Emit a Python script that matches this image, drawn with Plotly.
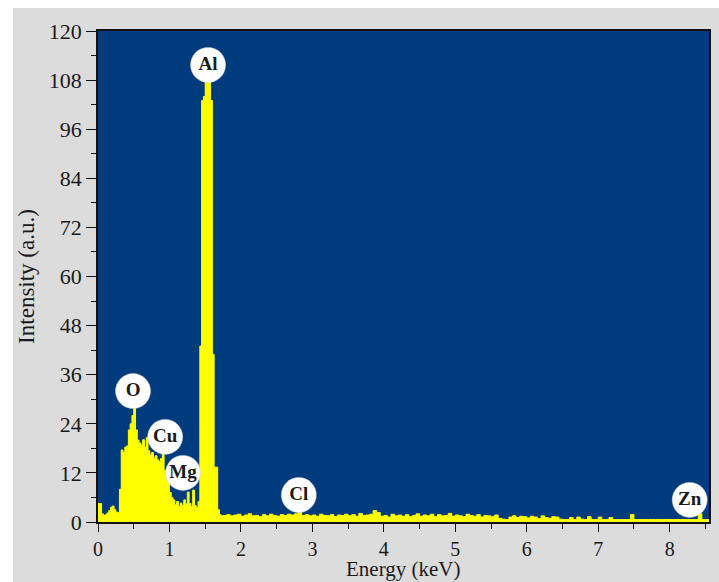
import numpy as np
import plotly.graph_objects as go

# ---- data ----
low_step = 0.025  # keV bin width, 0 - 1.75 keV
low_counts = [
    4.5, 4.5, 2.0, 1.6, 1.8, 2.2, 2.8, 3.6, 3.9, 3.0,
    2.4, 2.3, 8.0, 17.6, 17.0, 18.3, 18.6, 22.5, 24.0, 26.0,
    28.0, 22.5, 20.0, 19.3, 18.8, 20.1, 18.3, 20.6, 17.4, 16.4,
    17.0, 15.6, 16.2, 15.2, 14.8, 15.5, 16.8, 12.5, 11.6, 10.0,
    7.2, 6.0, 5.4, 4.2, 5.0, 3.8, 4.6, 4.0, 5.4, 4.4,
    7.3, 4.5, 3.8, 7.8, 4.0, 3.6, 5.0, 43.0, 103.0, 104.0,
    108.5, 108.5, 108.5, 103.0, 41.0, 13.4, 13.4, 3.0, 1.8, 1.5,
]
tail_start = 1.75
tail_step = 0.05  # keV bin width, 1.75 - 8.55 keV
tail_counts = [
    1.6, 1.8, 1.5, 1.7, 1.9,
    1.4, 1.7, 2.0, 1.5, 1.6, 1.3, 1.8, 1.5, 1.9, 1.6,
    1.4, 1.8, 1.6, 1.9, 1.7, 2.0, 2.4, 1.6, 1.8, 1.5,
    1.7, 1.4, 1.9, 1.6, 1.5, 1.8, 1.3, 1.7, 1.6, 1.9,
    1.5, 1.8, 1.4, 2.1, 1.6, 1.7, 1.9, 2.8, 2.3, 1.4,
    1.6, 1.2, 1.9, 1.5, 1.7, 1.4, 1.8, 1.3, 1.6, 2.0,
    1.4, 1.7, 1.5, 1.9, 1.3, 1.8, 1.5, 1.6, 2.1, 1.4,
    1.7, 1.5, 1.3, 1.9, 1.6, 1.4, 1.8, 1.2, 1.6, 1.5,
    1.3, 1.7, 0.9, 0.7, 0.6, 1.2, 1.5, 1.1, 1.4, 1.3,
    1.0, 1.4, 1.2, 0.8, 1.5, 1.1, 0.9, 1.3, 1.2, 0.7,
    0.6, 0.6, 1.1, 0.6, 1.2, 0.7, 0.6, 1.3, 0.6, 0.6,
    1.2, 0.6, 0.6, 1.1, 0.6, 0.6, 0.6, 0.6, 0.6, 1.8,
    0.6, 0.6, 0.6, 0.6, 0.6, 0.6, 0.6, 0.6, 0.6, 0.6,
    0.6, 0.6, 0.6, 0.6, 0.6, 0.6, 0.6, 0.6, 2.0, 0.6,
    0.6,
]
element_labels = ["O", "Cu", "Mg", "Al", "Cl", "Zn"]
label_energy = [0.49, 0.94, 1.19, 1.54, 2.81, 8.28]
label_intensity = [32.0, 20.8, 12.0, 111.7, 6.6, 5.4]

x_ticks = [0, 1, 2, 3, 4, 5, 6, 7, 8]
y_ticks = [0, 12, 24, 36, 48, 60, 72, 84, 96, 108, 120]

# ---- build step spectrum ----
low_e = np.arange(len(low_counts)) * low_step
tail_e = tail_start + np.arange(len(tail_counts)) * tail_step
energy = list(low_e) + list(tail_e)
counts = low_counts + tail_counts
energy.append(tail_e[-1] + tail_step)
counts.append(counts[-1])

BG = "#003b7d"
YEL = "#ffff00"
FONT = "Liberation Serif"
TXT = "#1a1a1a"

fig = go.Figure()
fig.add_trace(go.Scatter(
    x=energy, y=counts, mode="lines", line=dict(color=YEL, width=1, shape="hv"),
    fill="tozeroy", fillcolor=YEL, hoverinfo="skip", showlegend=False,
))
fig.add_trace(go.Scatter(
    x=label_energy, y=label_intensity, mode="markers+text",
    text=element_labels, textposition="middle center",
    marker=dict(size=35, color="white", line=dict(width=0.5, color="#cccccc")),
    textfont=dict(family=FONT, size=19, color=TXT, weight="bold"),
    showlegend=False, hoverinfo="skip",
))

axis_common = dict(
    showline=True, linecolor="#111111", linewidth=1.5, mirror=True,
    ticks="outside", tickwidth=1.3, tickcolor="#111111",
    showgrid=False, zeroline=False, automargin=False,
)

fig.update_xaxes(
    range=[0, 8.55], tickvals=x_ticks, **axis_common, ticklen=8,
    tickfont=dict(family=FONT, size=20, color=TXT),
    minor=dict(dtick=0.5, ticks="outside", ticklen=5, tickwidth=1.3, tickcolor="#111111"),
)
fig.update_yaxes(
    range=[0, 120], tickvals=y_ticks, **axis_common, ticklen=10,
    tickfont=dict(family=FONT, size=22, color=TXT),
    minor=dict(dtick=6, ticks="outside", ticklen=5, tickwidth=1.3, tickcolor="#111111"),
    title=dict(text="Intensity (a.u.)", font=dict(family=FONT, size=23, color=TXT), standoff=8),
)

# x-axis title placed like the reference, close to the bottom edge
fig.add_annotation(text="Energy (keV)", xref="paper", yref="paper", x=0.5, y=-0.0957,
                   xanchor="center", yanchor="middle", showarrow=False,
                   font=dict(family=FONT, size=21, color=TXT))

# white strips at the top and left of the grey panel
fig.add_shape(type="rect", xref="paper", yref="paper", x0=-0.2, x1=-0.1391,
              y0=-0.2, y1=1.2, fillcolor="white", line_width=0, layer="below")
fig.add_shape(type="rect", xref="paper", yref="paper", x0=-0.2, x1=1.1,
              y0=1.0468, y1=1.2, fillcolor="white", line_width=0, layer="below")

fig.update_layout(
    width=719, height=582,
    margin=dict(l=98, r=10, t=31, b=60),
    paper_bgcolor="#dcdcdc", plot_bgcolor=BG,
    font=dict(family=FONT, color=TXT),
)

fig.write_html("out.html")
